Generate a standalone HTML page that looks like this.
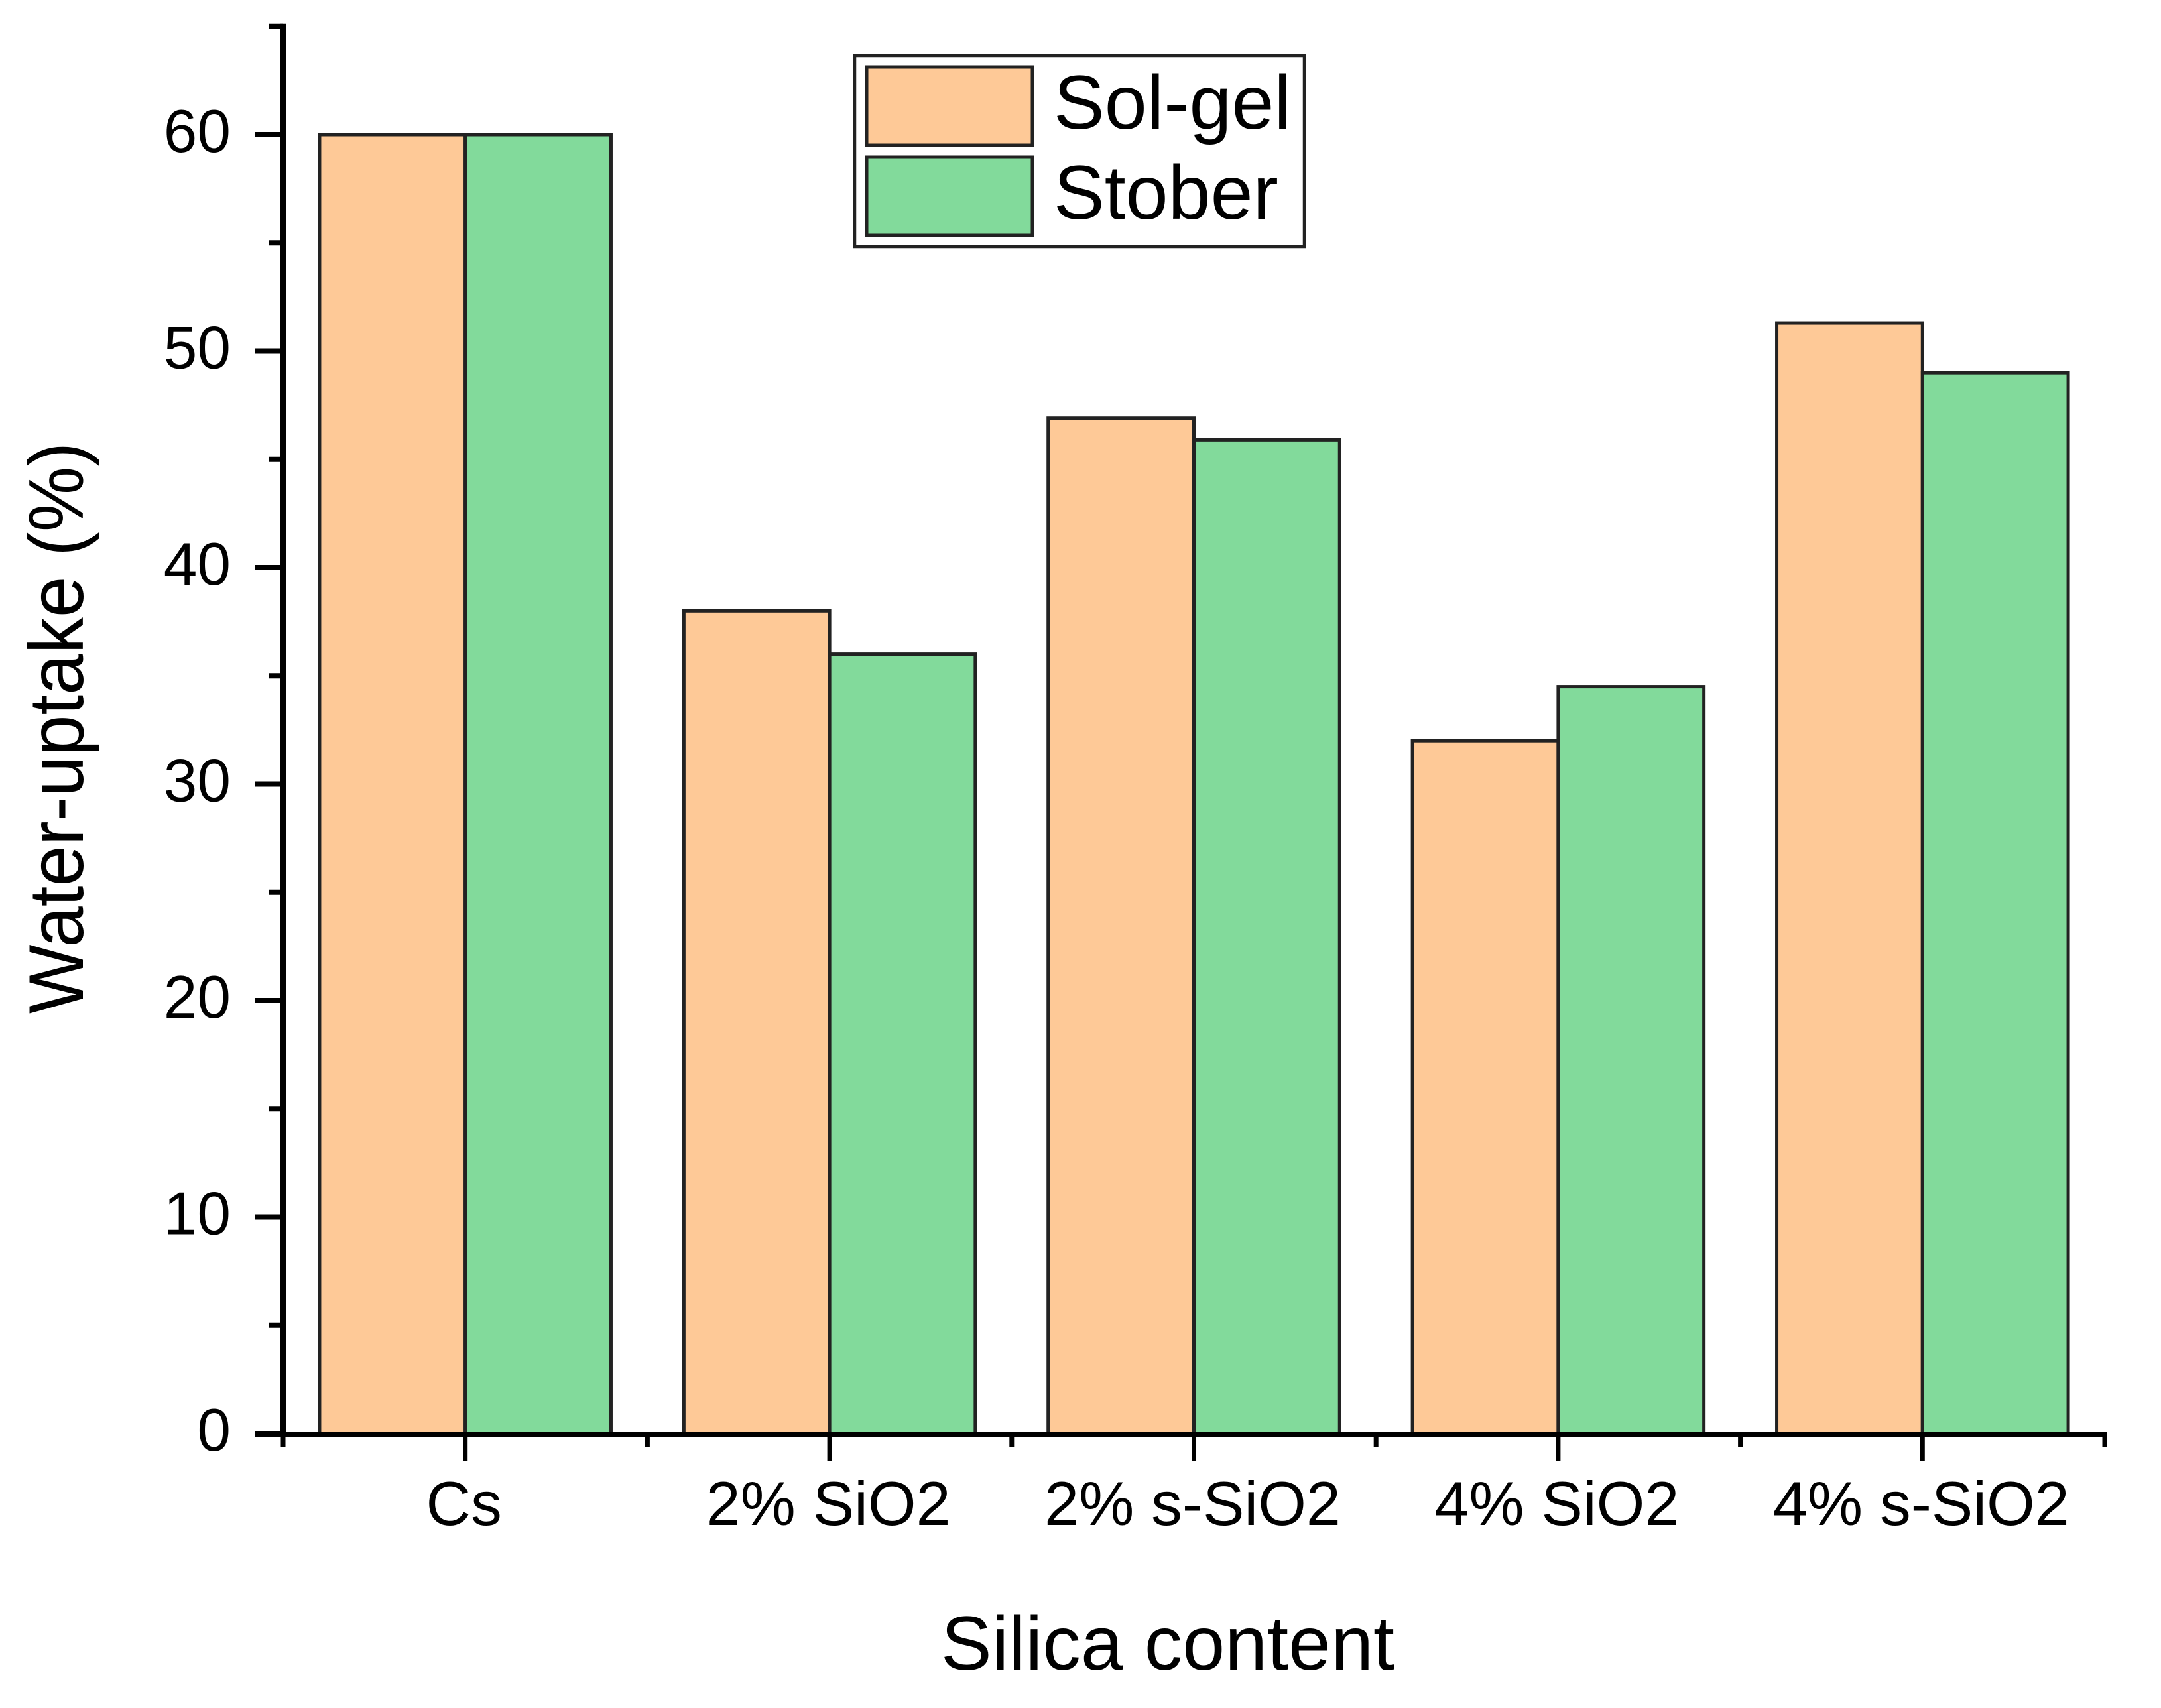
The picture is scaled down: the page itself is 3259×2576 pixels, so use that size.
<!DOCTYPE html>
<html lang="en">
<head>
<meta charset="utf-8">
<title>Water-uptake vs Silica content</title>
<style>
html,body{margin:0;padding:0;background:#fff;}
svg{display:block;font-family:"Liberation Sans",Arial,sans-serif;}
</style>
</head>
<body>
<svg id="chart" xmlns="http://www.w3.org/2000/svg" width="3259" height="2576" viewBox="0 0 3259 2576">
  <rect x="0" y="0" width="3259" height="2576" fill="#ffffff"/>
  <g id="bars"></g>
  <g id="axes"></g>
  <text transform="translate(125,1098) rotate(-90)" text-anchor="middle" font-size="117" textLength="862" lengthAdjust="spacingAndGlyphs" fill="#000">Water-uptake (%)</text>
  <text x="1761" y="2518" text-anchor="middle" font-size="115" fill="#000">Silica content</text>
  <g>
    <rect x="1289" y="84" width="678" height="288" fill="#fff" stroke="#222" stroke-width="4.5"/>
    <rect x="1307" y="101" width="250" height="118" fill="#FEC997" stroke="#222" stroke-width="5"/>
    <text x="1589" y="194" font-size="115" fill="#000">Sol-gel</text>
    <rect x="1307" y="237" width="250" height="118" fill="#82DA9B" stroke="#222" stroke-width="5"/>
    <text x="1589" y="330" font-size="115" fill="#000">Stober</text>
  </g>
</svg>
<script>
const categories = ['Cs', '2% SiO2', '2% s-SiO2', '4% SiO2', '4% s-SiO2'];
const solGelValues = [60, 38, 46.9, 32, 51.3];
const stoberValues = [60, 36, 45.9, 34.5, 49];
const yTickLabels = [0, 10, 20, 30, 40, 50, 60];
const yMinorTicks = [5, 15, 25, 35, 45, 55, 65];

const NS = 'http://www.w3.org/2000/svg';
const plot = { left: 427, right: 3174, y0: 2162, perUnit: 32.65, yMax: 65 };
const bandWidth = (plot.right - plot.left) / categories.length;
const barWidth = bandWidth * 0.4;
const xCenter = i => plot.left + bandWidth * (i + 0.5);
const xEdge = i => plot.left + bandWidth * i;
const yScale = v => plot.y0 - v * plot.perUnit;

const barsGroup = document.getElementById('bars');
const axesGroup = document.getElementById('axes');

function make(tag, attrs, parent) {
  const el = document.createElementNS(NS, tag);
  for (const k in attrs) el.setAttribute(k, attrs[k]);
  parent.appendChild(el);
  return el;
}

function drawBar(value, i, offset, fill, seriesName) {
  const top = yScale(value);
  const bar = make('rect', {
    x: xCenter(i) + offset,
    y: top,
    width: barWidth,
    height: plot.y0 - top,
    fill: fill,
    stroke: '#222',
    'stroke-width': 5
  }, barsGroup);
  
  
}

categories.forEach((c, i) => {
  drawBar(solGelValues[i], i, -barWidth, '#FEC997', 'sol-gel');
  drawBar(stoberValues[i], i, 0, '#82DA9B', 'stober');
});

function line(x1, y1, x2, y2, w, name) {
  const l = make('line', { x1: x1, y1: y1, x2: x2, y2: y2, stroke: '#000', 'stroke-width': w }, axesGroup);
  
  
}

line(plot.left, yScale(plot.yMax) - 4, plot.left, plot.y0 + 4, 8, 'y-axis-line');
line(385, plot.y0 + 1, plot.right + 4, plot.y0 + 1, 8, 'x-axis-line');

yTickLabels.forEach(v => {
  line(385, yScale(v), plot.left, yScale(v), 8, 'y-tick-major-' + v);
  const t = make('text', { x: 348, y: yScale(v) + 26, 'text-anchor': 'end', 'font-size': 91, fill: '#000' }, axesGroup);
  
  
  t.textContent = String(v);
});

yMinorTicks.forEach(v => {
  line(406, yScale(v), plot.left, yScale(v), 8, 'y-tick-minor-' + v);
});

categories.forEach((c, i) => {
  line(xCenter(i), plot.y0, xCenter(i), 2204, 7, 'x-tick-major-' + i);
  const t = make('text', { x: xCenter(i) - 2, y: 2300, 'text-anchor': 'middle', 'font-size': 93.5, fill: '#000' }, axesGroup);
  
  
  t.textContent = c;
});

for (let i = 0; i <= categories.length; i++) {
  line(xEdge(i), plot.y0, xEdge(i), 2183, 7, 'x-tick-minor-' + i);
}
</script>
</body>
</html>
